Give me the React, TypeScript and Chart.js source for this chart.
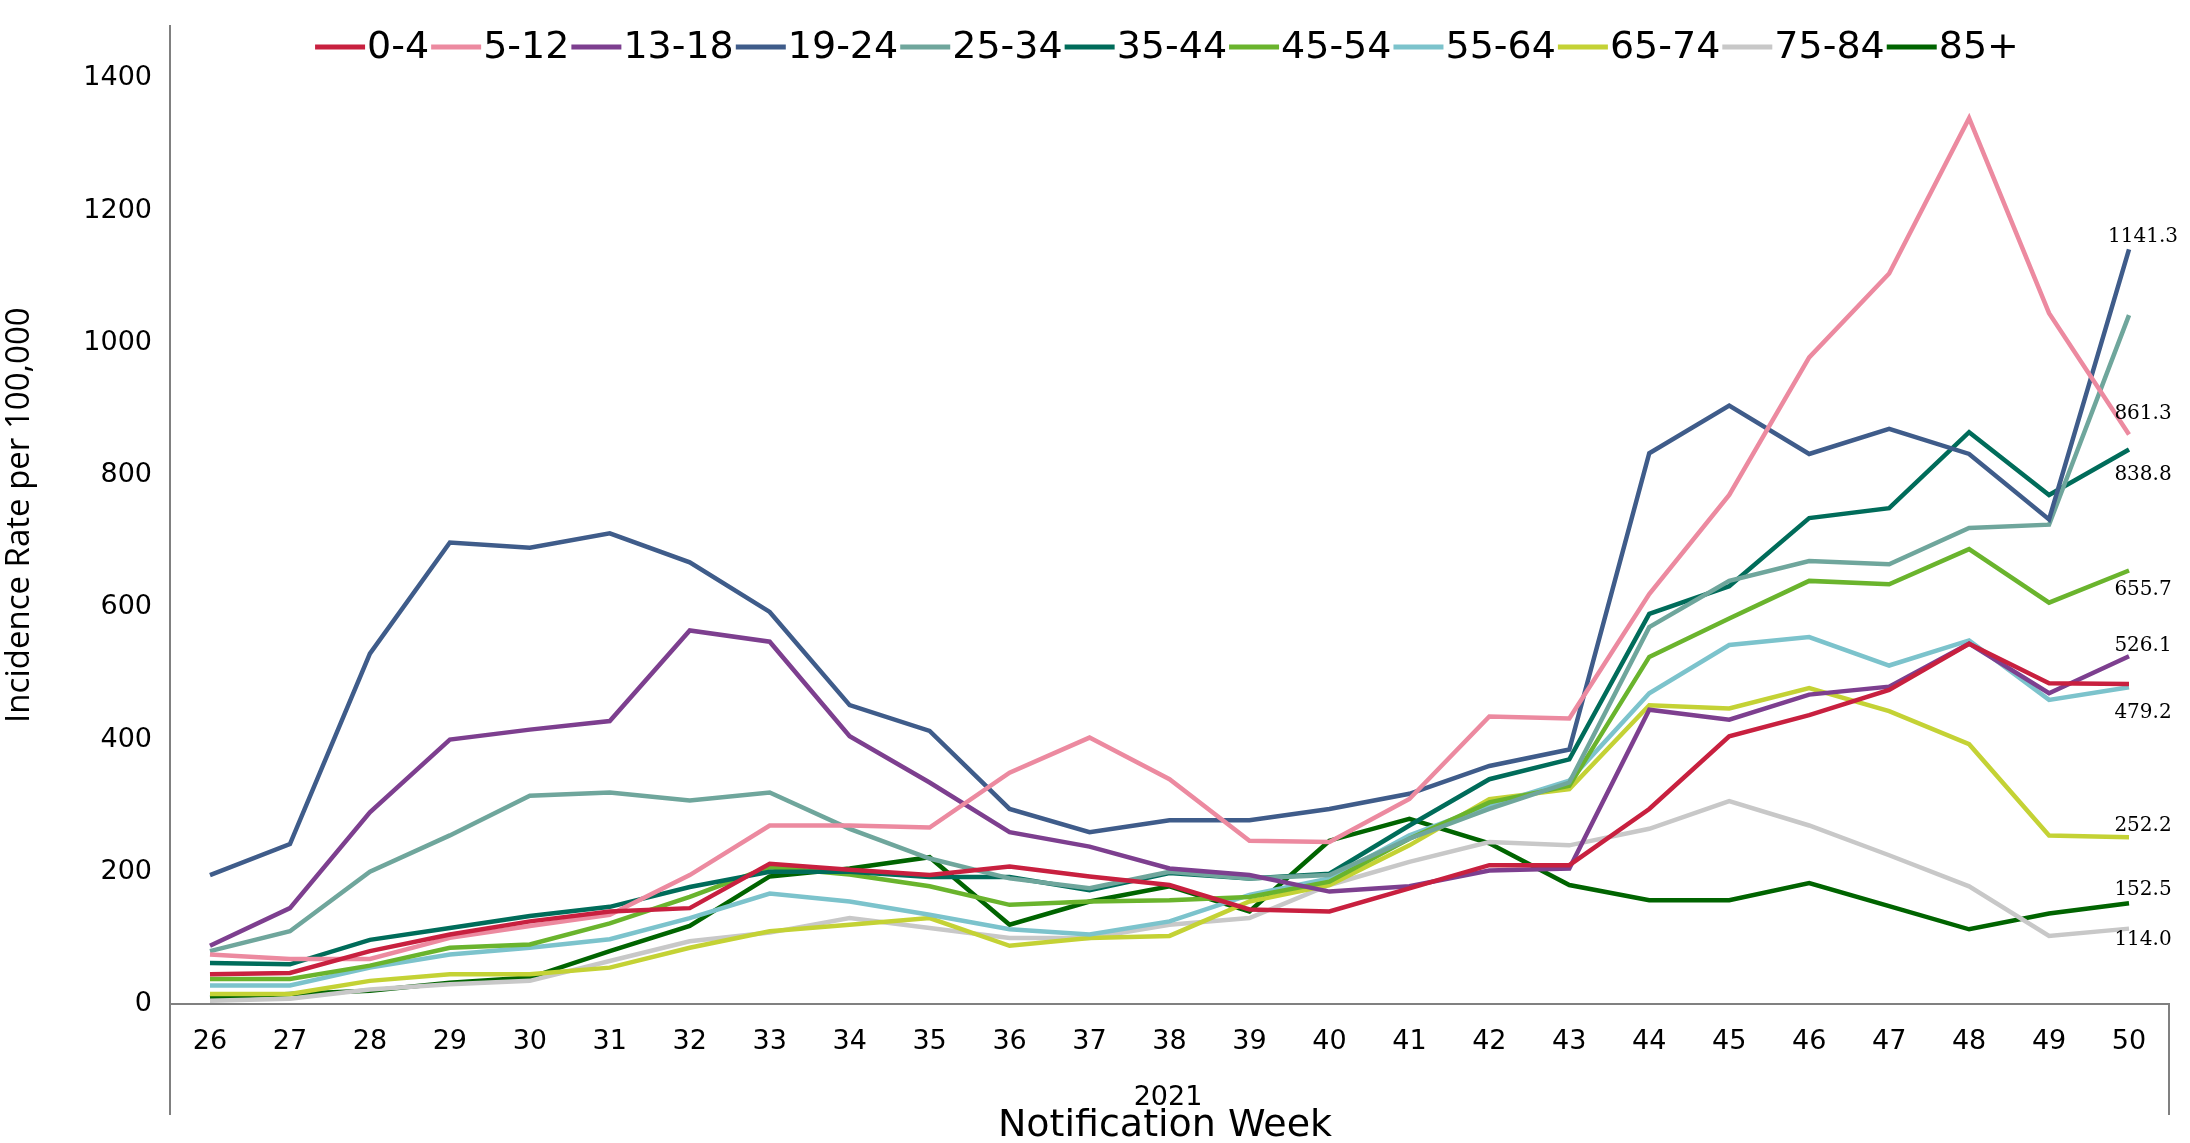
import React, { useRef, useEffect } from "react";
import Chart from "chart.js/auto";

const weeks = ["26","27","28","29","30","31","32","33","34","35","36","37","38","39","40","41","42","43","44","45","46","47","48","49","50"];

const age0_4 = [45,47,80,105,125,140,145,212,203,195,208,193,180,143,140,175,210,210,295,405,437,475,545,485,484];
const age5_12 = [75,68,68,100,118,135,195,270,270,267,350,403,340,247,245,310,435,432,620,770,978,1105,1340,1045,861.3];
const age13_18 = [88,145,290,400,415,428,565,548,405,335,260,238,205,195,170,178,202,205,445,430,468,480,545,470,526.1];
const age19_24 = [195,242,530,698,690,712,668,593,452,413,295,260,278,278,295,318,360,385,833,905,832,870,832,733,1141.3];
const age25_34 = [80,110,200,255,315,320,308,320,265,220,190,175,200,190,195,250,295,335,570,640,670,665,720,725,1042];
const age35_44 = [62,60,97,115,133,147,177,200,200,192,192,172,198,190,197,270,340,370,590,632,735,750,865,770,838.8];
const age45_54 = [38,38,58,85,90,122,162,207,196,178,150,155,157,162,185,250,305,330,525,583,640,635,688,607,655.7];
const age55_64 = [28,28,55,75,85,98,130,167,155,135,113,105,125,165,190,255,300,338,470,543,555,512,550,460,479.2];
const age65_74 = [15,15,35,45,45,55,85,110,120,130,88,100,103,155,180,240,310,325,452,447,478,443,393,255,252.2];
const age75_84 = [5,8,22,30,35,65,95,108,130,115,100,100,120,130,180,215,245,240,265,307,270,225,178,103,114.0];
const age85 = [10,15,20,32,40,80,118,193,205,222,120,155,178,140,247,280,243,180,157,157,183,148,113,137,152.5];

const seriesNames = ["0-4","5-12","13-18","19-24","25-34","35-44","45-54","55-64","65-74","75-84","85+"];
const seriesData = [age0_4, age5_12, age13_18, age19_24, age25_34, age35_44, age45_54, age55_64, age65_74, age75_84, age85];
const colors = ["#c8203f","#ec8aa0","#7d3f8f","#3f5c8a","#6fa69c","#006c5a","#6ab42d","#7cc3cc","#c4d235","#c8c8c8","#006400"];
// which series get an end label, and the label's vertical shift (px)
const labelShift = [null, -21, -10, -13, null, 25, 19, 26, -11, 11, -13];

const yTicks = [0,200,400,600,800,1000,1200,1400];

export default function App() {
  const canvasRef = useRef<HTMLCanvasElement>(null);
  const chartRef = useRef<Chart | null>(null);

  useEffect(() => {
    document.body.style.margin = "0";
    if (!canvasRef.current) return;
    if (chartRef.current) chartRef.current.destroy();
    const ctx = canvasRef.current.getContext("2d");
    if (!ctx) return;

    const extras = {
      id: "extras",
      afterDraw(chart: any) {
        const c = chart.ctx;
        const a = chart.chartArea;
        const xs = chart.scales.x;
        const ys = chart.scales.y;
        c.save();
        // axis frame below plot
        c.strokeStyle = "#808080";
        c.lineWidth = 2;
        c.beginPath();
        c.moveTo(a.left, a.bottom);
        c.lineTo(a.left, 1115);
        c.moveTo(a.right, a.bottom);
        c.lineTo(a.right, 1115);
        c.stroke();
        // category captions
        c.fillStyle = "#000";
        c.textAlign = "center";
        c.textBaseline = "middle";
        c.font = "27px 'DejaVu Sans'";
        c.fillText("2021", 1168, 1098);
        c.font = "38px 'DejaVu Sans'";
        c.fillText("Notification Week", 1165, 1126);
        // end labels
        c.font = "20px 'DejaVu Serif'";
        const last = weeks.length - 1;
        seriesData.forEach((d, i) => {
          const s = labelShift[i];
          if (s === null) return;
          const px = xs.getPixelForValue(last) + 14;
          const py = ys.getPixelForValue(d[last]);
          c.fillText(d[last].toFixed(1), px, py + s);
        });
        // legend
        c.font = "38px 'DejaVu Sans'";
        const lineLen = 50;
        const widths = seriesNames.map((n) => c.measureText(n).width + lineLen + 4);
        const total = widths.reduce((p, q) => p + q, 0);
        let x = 1168 - total / 2;
        const y = 47;
        c.textAlign = "left";
        seriesNames.forEach((n, i) => {
          c.strokeStyle = colors[i];
          c.lineWidth = 5;
          c.beginPath();
          c.moveTo(x, y);
          c.lineTo(x + lineLen, y);
          c.stroke();
          c.fillStyle = "#000";
          c.fillText(n, x + lineLen + 2, y + 1);
          x += widths[i];
        });
        c.restore();
      },
    };

    chartRef.current = new Chart(ctx, {
      type: "line",
      data: {
        labels: weeks,
        datasets: seriesData.map((d, i) => ({
          label: seriesNames[i],
          data: d,
          borderColor: colors[i],
          backgroundColor: colors[i],
          borderWidth: 4.5,
          pointRadius: 0,
          tension: 0,
        })),
      },
      options: {
        responsive: false,
        animation: false,
        layout: { padding: { top: 0, right: 21, left: 0, bottom: 0 } },
        plugins: { legend: { display: false }, tooltip: { enabled: false } },
        scales: {
          x: {
            offset: true,
            grid: { display: false, drawTicks: false },
            border: { color: "#808080", width: 2 },
            ticks: { color: "#000", font: { size: 27, family: "DejaVu Sans" }, padding: 22, maxRotation: 0, autoSkip: false },
            afterFit: (s: any) => { s.height = 139; },
          },
          y: {
            min: 0,
            max: 1479,
            afterBuildTicks: (s: any) => { s.ticks = yTicks.map((v) => ({ value: v })); },
            grid: { display: false, drawTicks: true, tickLength: 8, tickColor: "#808080" },
            border: { color: "#808080", width: 2 },
            ticks: { color: "#000", font: { size: 27, family: "DejaVu Sans" }, padding: 10, callback: (v: any) => String(v) },
            title: { display: true, text: "Incidence Rate per 100,000", color: "#000", font: { size: 33, family: "Open Sans" }, padding: 0 },
            afterFit: (s: any) => { s.width = 170; },
          },
        },
      },
      plugins: [extras],
    });

    return () => {
      if (chartRef.current) chartRef.current.destroy();
    };
  }, []);

  return (
    <div style={{ width: 2190, height: 1143, background: "#fff" }}>
      <canvas ref={canvasRef} width={2190} height={1143}></canvas>
    </div>
  );
}
